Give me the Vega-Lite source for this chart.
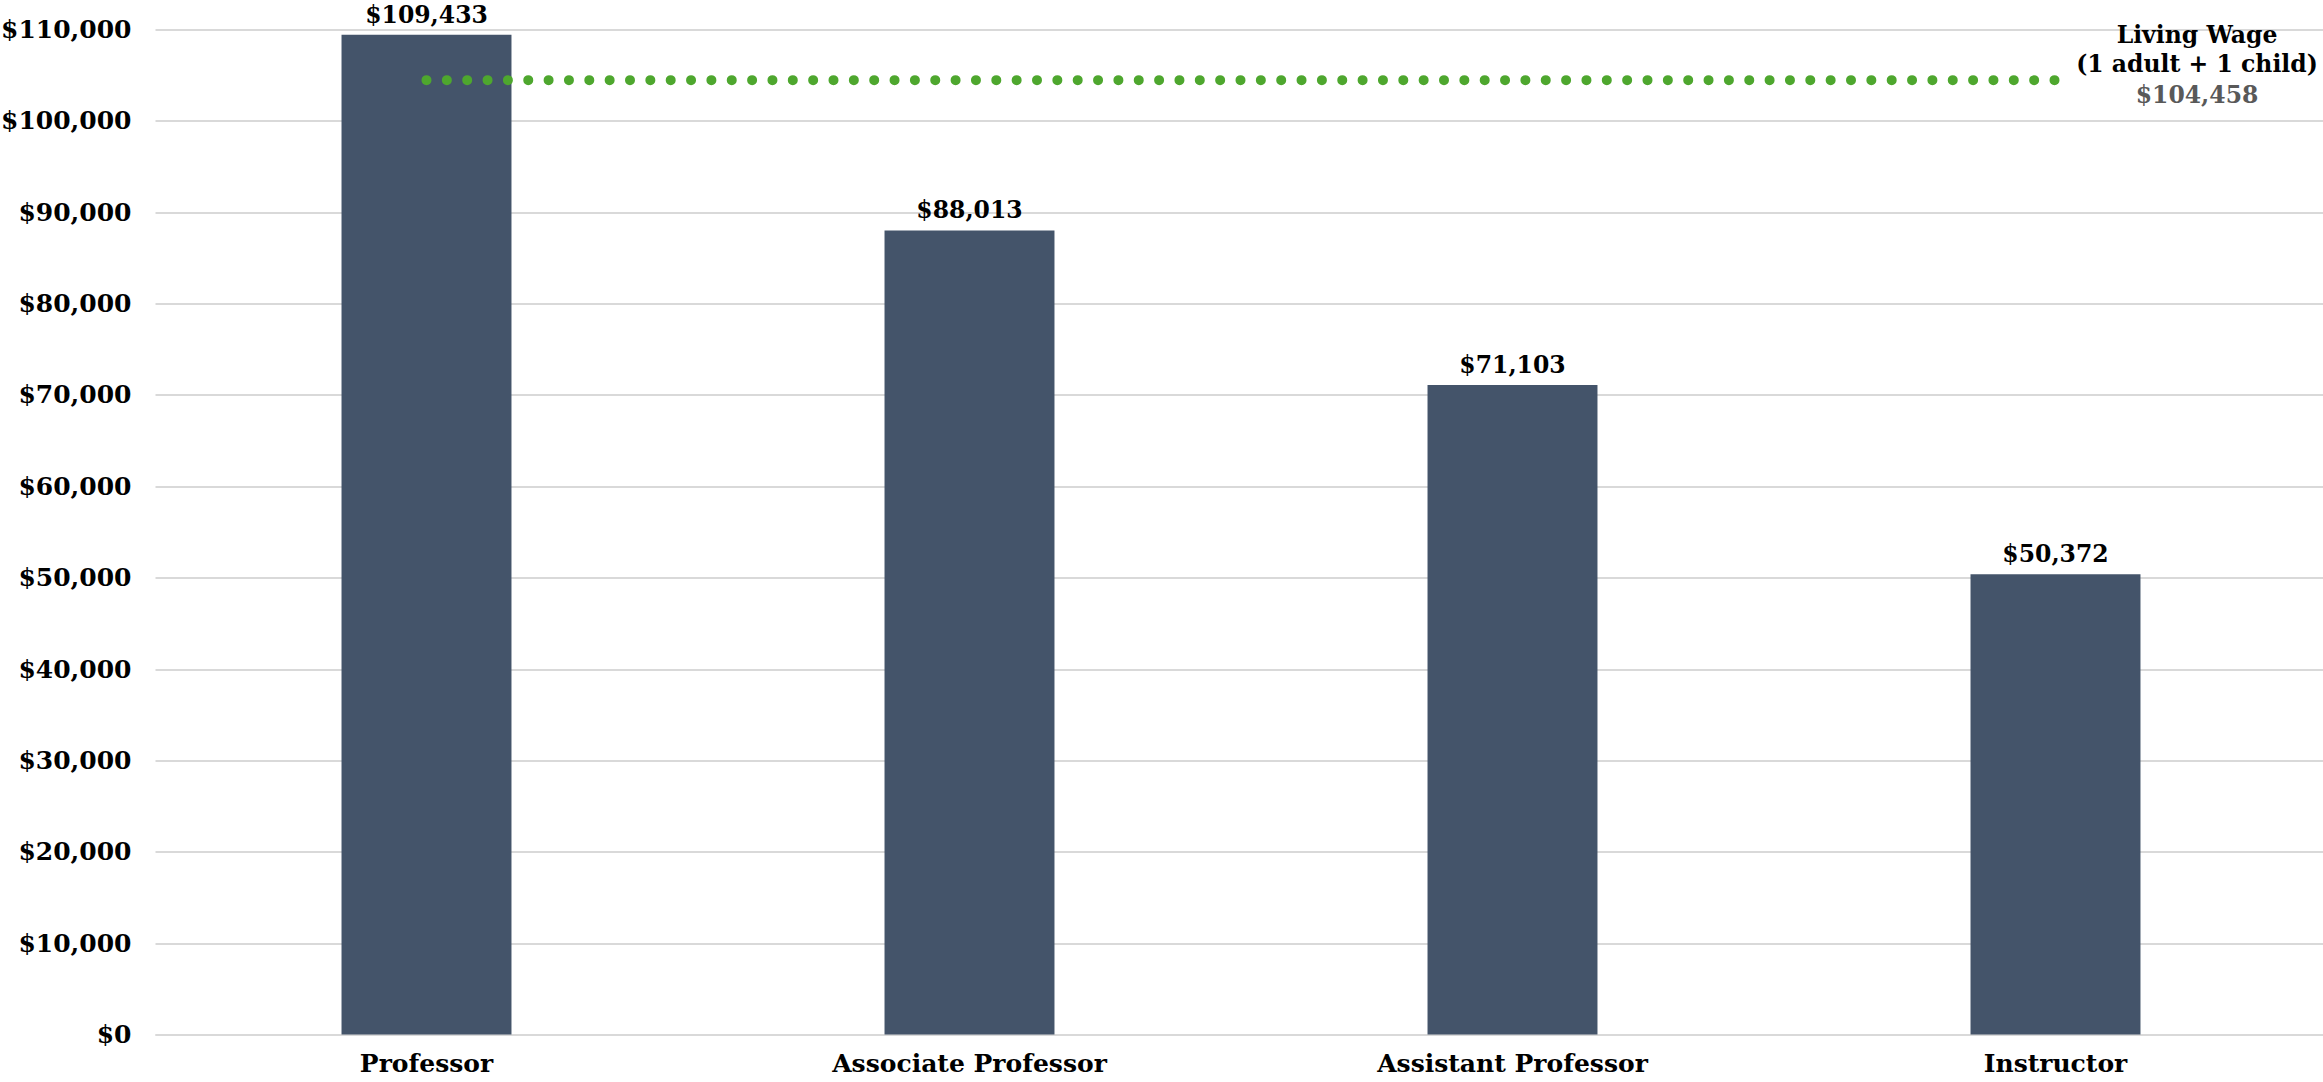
{
  "$schema": "https://vega.github.io/schema/vega-lite/v6.json",
  "width": 2172,
  "height": 1005,
  "autosize": {"type": "none"},
  "padding": {"left": 155, "top": 29.5, "right": 0, "bottom": 47.5},
  "background": "white",
  "config": {"view": {"stroke": null}, "font": "DejaVu Serif"},
  "datasets": {
    "salaries": [
      {"rank": "Professor", "salary": 109433},
      {"rank": "Associate Professor", "salary": 88013},
      {"rank": "Assistant Professor", "salary": 71103},
      {"rank": "Instructor", "salary": 50372}
    ],
    "livingLine": [
      {"rank": "Professor", "wage": 104458},
      {"rank": "Instructor", "wage": 104458}
    ],
    "livingNote": [
      {"title": "Living Wage", "sub": "(1 adult + 1 child)", "wage": 104458}
    ]
  },
  "encoding": {
    "x": {
      "field": "rank",
      "type": "nominal",
      "sort": ["Professor", "Associate Professor", "Assistant Professor", "Instructor"],
      "scale": {"paddingInner": 0.687, "paddingOuter": 0.3435},
      "axis": {
        "title": null,
        "labelAngle": 0,
        "labelLimit": 0,
        "labelFont": "DejaVu Serif",
        "labelFontSize": 25,
        "labelFontWeight": "bold",
        "labelColor": "#000000",
        "labelPadding": 17,
        "ticks": false,
        "domain": true,
        "domainColor": "#d9d9d9",
        "domainWidth": 2
      }
    }
  },
  "layer": [
    {
      "data": {"name": "salaries"},
      "mark": {"type": "bar", "color": "#44546A"},
      "encoding": {
        "y": {
          "field": "salary",
          "type": "quantitative",
          "scale": {"domain": [0, 110000], "nice": false},
          "axis": {
            "title": null,
            "values": [0, 10000, 20000, 30000, 40000, 50000, 60000, 70000, 80000, 90000, 100000, 110000],
            "format": "$,.0f",
            "labelFont": "DejaVu Serif",
            "labelFontSize": 25,
            "labelFontWeight": "bold",
            "labelColor": "#000000",
            "labelPadding": 24,
            "ticks": false,
            "domain": false,
            "grid": true,
            "gridColor": "#d9d9d9",
            "gridWidth": 2
          }
        }
      }
    },
    {
      "data": {"name": "salaries"},
      "mark": {"type": "text", "baseline": "alphabetic", "align": "center", "dy": -12, "fontSize": 23.5, "fontWeight": "bold", "color": "#000000"},
      "encoding": {
        "y": {"field": "salary", "type": "quantitative"},
        "text": {"field": "salary", "type": "quantitative", "format": "$,.0f"}
      }
    },
    {
      "data": {"name": "livingLine"},
      "mark": {"type": "line", "color": "#4EA72E", "strokeWidth": 10, "strokeCap": "round", "strokeDash": [0, 20.35]},
      "encoding": {
        "y": {"field": "wage", "type": "quantitative"}
      }
    },
    {
      "data": {"name": "livingNote"},
      "mark": {"type": "text", "baseline": "middle", "align": "center", "dx": 141.5, "dy": -44, "fontSize": 23.5, "fontWeight": "bold", "color": "#000000"},
      "encoding": {
        "x": {"datum": "Instructor"},
        "y": {"field": "wage", "type": "quantitative"},
        "text": {"field": "title"}
      }
    },
    {
      "data": {"name": "livingNote"},
      "mark": {"type": "text", "baseline": "middle", "align": "center", "dx": 141.5, "dy": -15, "fontSize": 23.5, "fontWeight": "bold", "color": "#000000"},
      "encoding": {
        "x": {"datum": "Instructor"},
        "y": {"field": "wage", "type": "quantitative"},
        "text": {"field": "sub"}
      }
    },
    {
      "data": {"name": "livingNote"},
      "mark": {"type": "text", "baseline": "middle", "align": "center", "dx": 141.5, "dy": 16, "fontSize": 23.5, "fontWeight": "bold", "color": "#595959"},
      "encoding": {
        "x": {"datum": "Instructor"},
        "y": {"field": "wage", "type": "quantitative"},
        "text": {"field": "wage", "type": "quantitative", "format": "$,.0f"}
      }
    }
  ]
}
